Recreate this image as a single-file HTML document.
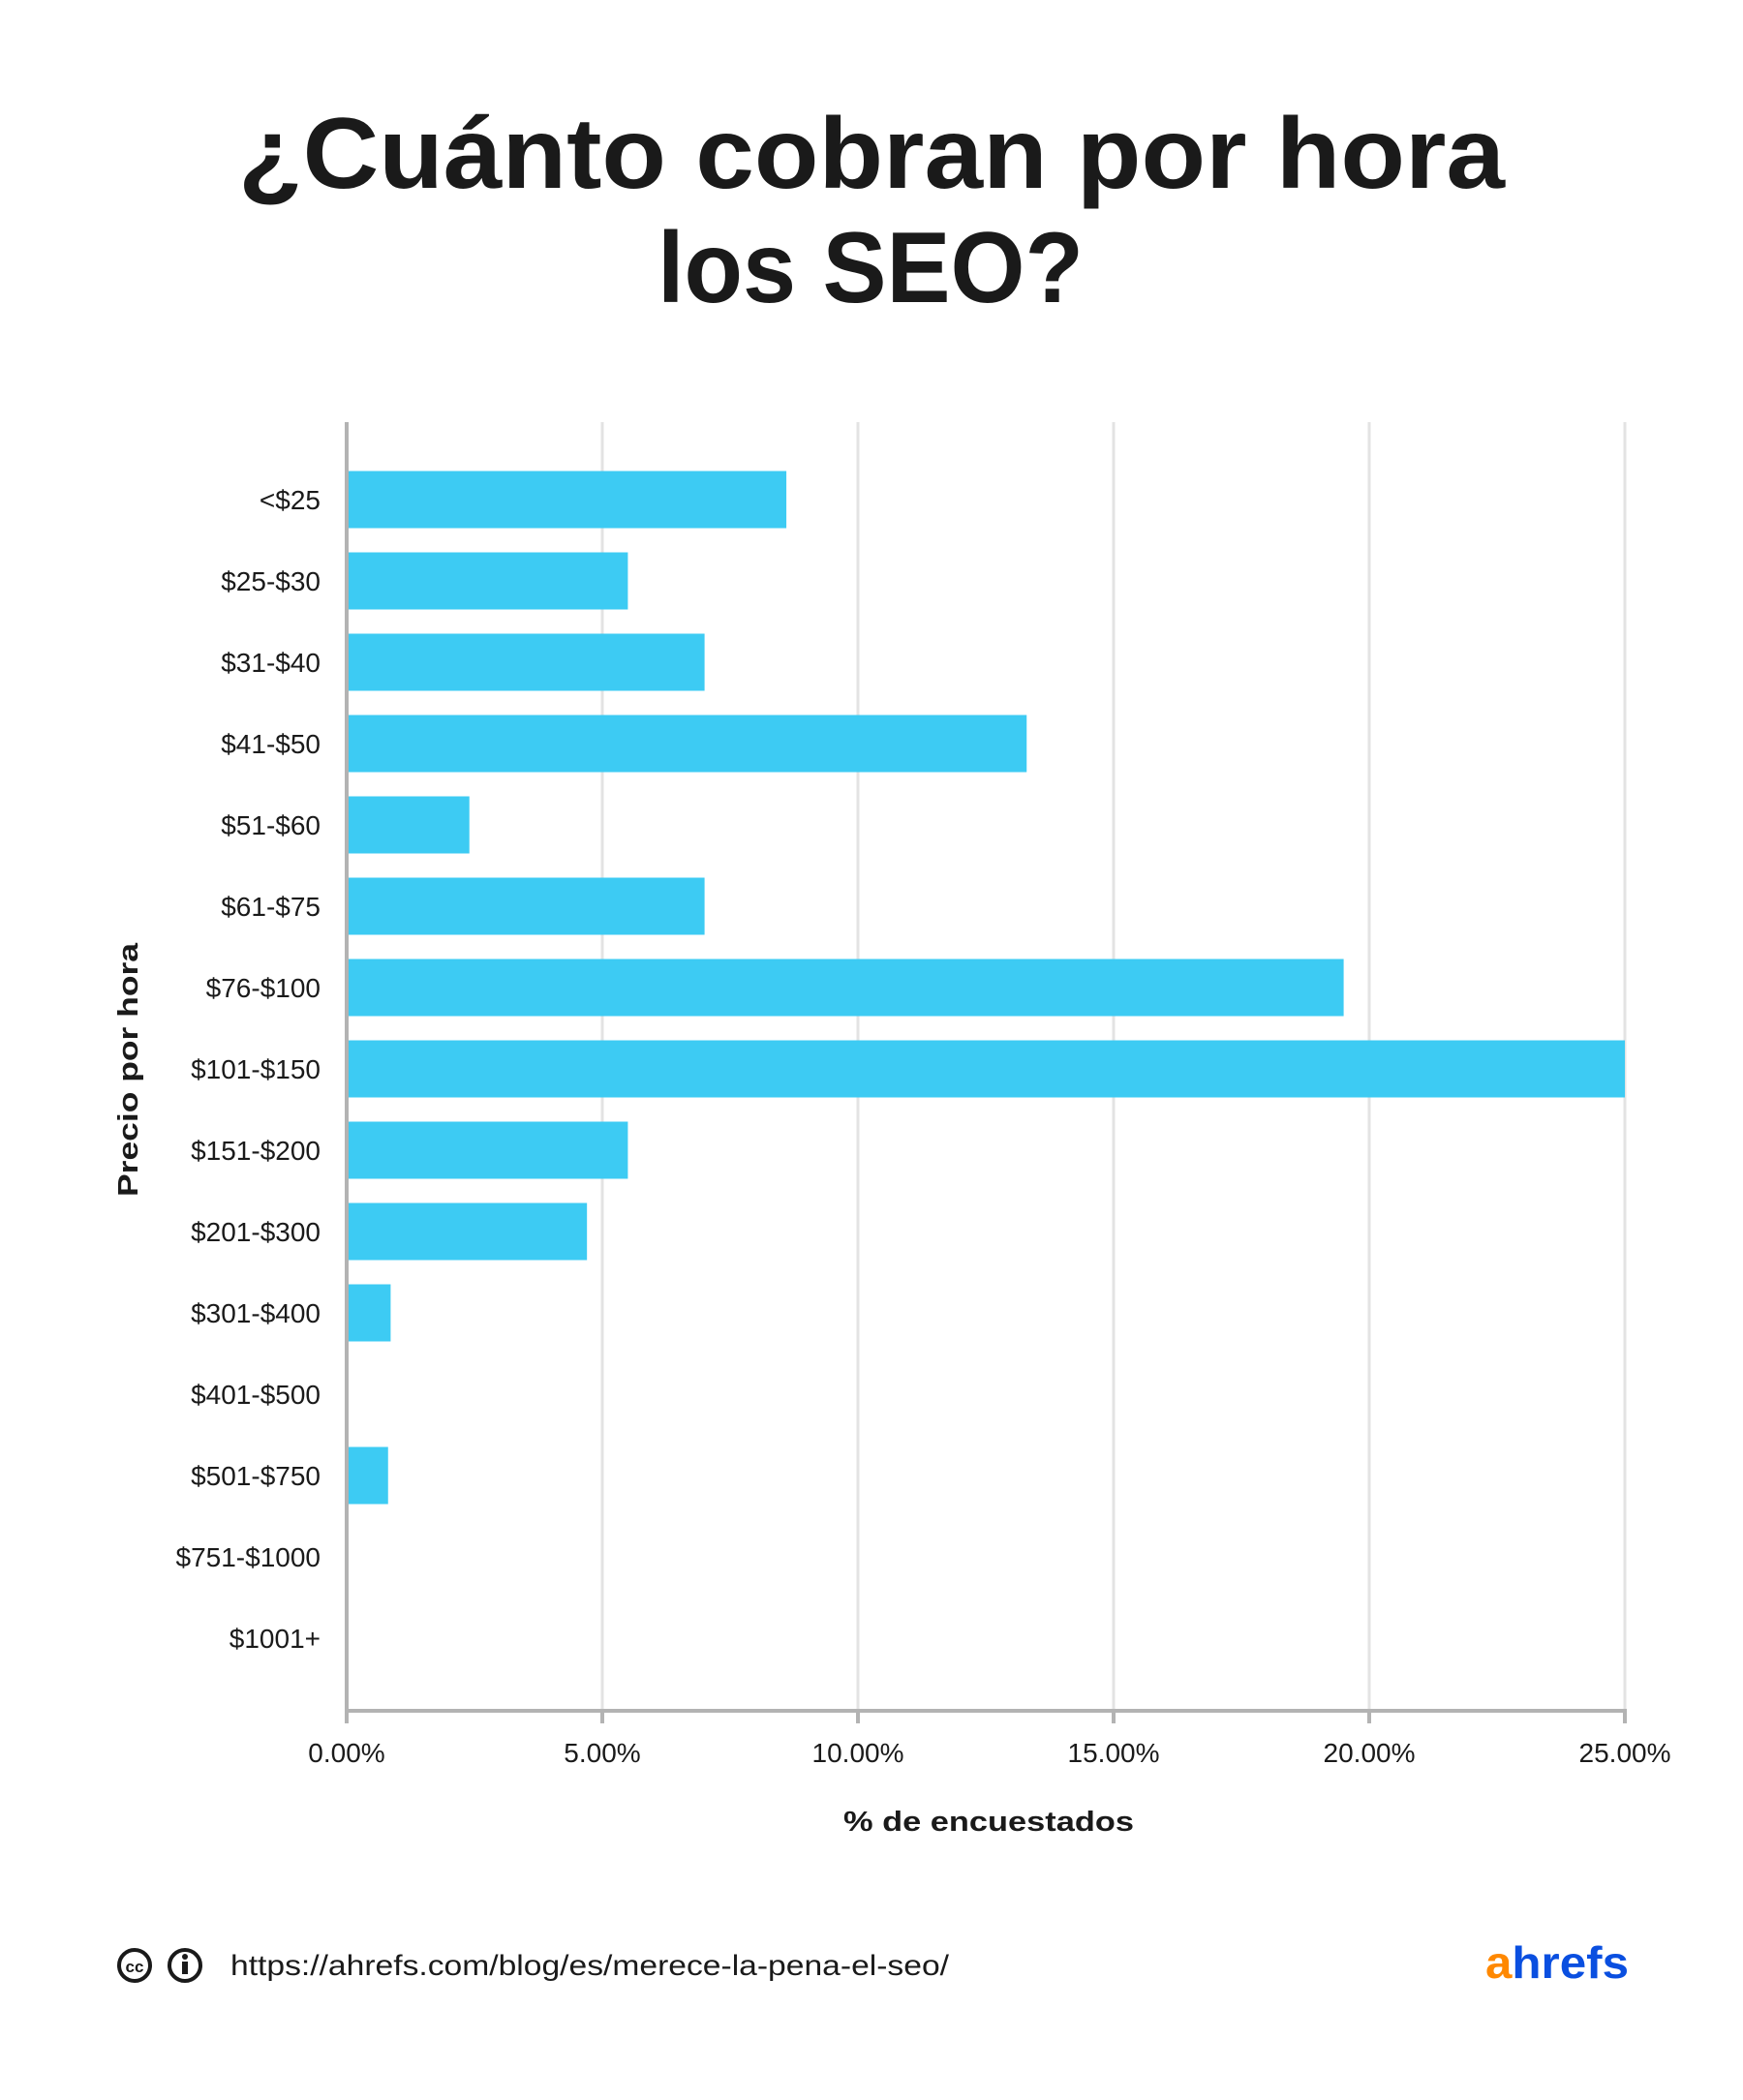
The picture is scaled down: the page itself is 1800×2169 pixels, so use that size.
<!DOCTYPE html>
<html><head><meta charset="utf-8"><style>
body{margin:0;background:#fff;}
svg text{font-family:"Liberation Sans",sans-serif;fill:#1a1a1a;}
</style></head><body>
<svg width="1800" height="2164" viewBox="0 0 1800 2164" xmlns="http://www.w3.org/2000/svg">
<rect width="1800" height="2164" fill="#fff"/>
<text x="246" y="194" font-size="104" font-weight="bold" textLength="1308" lengthAdjust="spacingAndGlyphs">¿Cuánto cobran por hora</text>
<text x="679" y="312" font-size="104" font-weight="bold" textLength="440" lengthAdjust="spacingAndGlyphs">los SEO?</text>
<g id="grid"></g><g id="bars"></g><g id="axes"></g>
<text transform="translate(142,1105) rotate(-90)" text-anchor="middle" font-size="29" font-weight="bold" textLength="262" lengthAdjust="spacingAndGlyphs">Precio por hora</text>
<text x="871" y="1891" font-size="29" font-weight="bold" textLength="300" lengthAdjust="spacingAndGlyphs">% de encuestados</text>
<g><circle cx="139" cy="2030" r="16" fill="none" stroke="#1a1a1a" stroke-width="4"/><text x="139" y="2037" text-anchor="middle" font-size="17" font-weight="bold">cc</text></g>
<g><circle cx="191" cy="2030" r="16" fill="none" stroke="#1a1a1a" stroke-width="4"/><circle cx="191" cy="2021" r="3" fill="#1a1a1a"/><rect x="188" y="2026" width="6" height="13" fill="#1a1a1a"/></g>
<text x="238" y="2040" font-size="30" textLength="742" lengthAdjust="spacingAndGlyphs">https://ahrefs.com/blog/es/merece-la-pena-el-seo/</text>
<text x="1534" y="2043" font-size="46" font-weight="bold" textLength="148" lengthAdjust="spacingAndGlyphs"><tspan style="fill:#ff8800">a</tspan><tspan style="fill:#0a4fe0">hrefs</tspan></text>
</svg>
<script>
const categories=["<$25","$25-$30","$31-$40","$41-$50","$51-$60","$61-$75","$76-$100","$101-$150","$151-$200","$201-$300","$301-$400","$401-$500","$501-$750","$751-$1000","$1001+"];
const values=[8.6,5.5,7.0,13.3,2.4,7.0,19.5,25.0,5.5,4.7,0.86,0,0.81,0,0];
const ticks=[0,5,10,15,20,25];
const tickLabels=["0.00%","5.00%","10.00%","15.00%","20.00%","25.00%"];
const NS="http://www.w3.org/2000/svg";
const x0=358,x1=1678,plotTop=436,axisY=1767;
function xs(v){return x0+(v/25)*(x1-x0);}
function ys(i){return 516+i*84;}
function mk(t,a,p){const e=document.createElementNS(NS,t);for(const k in a)e.setAttribute(k,a[k]);document.getElementById(p).appendChild(e);return e;}
ticks.forEach((t,i)=>{
 if(i>0){const g=mk('line',{x1:xs(t),x2:xs(t),y1:plotTop,y2:axisY,stroke:'#e3e3e3','stroke-width':3},'grid');
 
 }
 const tk=mk('line',{x1:xs(t),x2:xs(t),y1:axisY,y2:axisY+13,stroke:'#b3b3b3','stroke-width':4},'axes');
 
 
 const tl=mk('text',{x:xs(t),y:axisY+53,'text-anchor':'middle','font-size':28},'axes');
 tl.textContent=tickLabels[i];
 
 
});
categories.forEach((c,i)=>{
 if(values[i]>0){const b=mk('rect',{x:x0,y:ys(i)-29.5,width:xs(values[i])-x0,height:59,fill:'#3dcbf3'},'bars');
 
 }
 const l=mk('text',{x:331,y:ys(i)+10,'text-anchor':'end','font-size':28},'axes');
 l.textContent=c;
 
 
});
const ya=mk('line',{x1:x0,x2:x0,y1:plotTop,y2:axisY+2,stroke:'#b3b3b3','stroke-width':4},'axes');


const xa=mk('line',{x1:x0-2,x2:x1+2,y1:axisY,y2:axisY,stroke:'#b3b3b3','stroke-width':4},'axes');


</script>
</body></html>
